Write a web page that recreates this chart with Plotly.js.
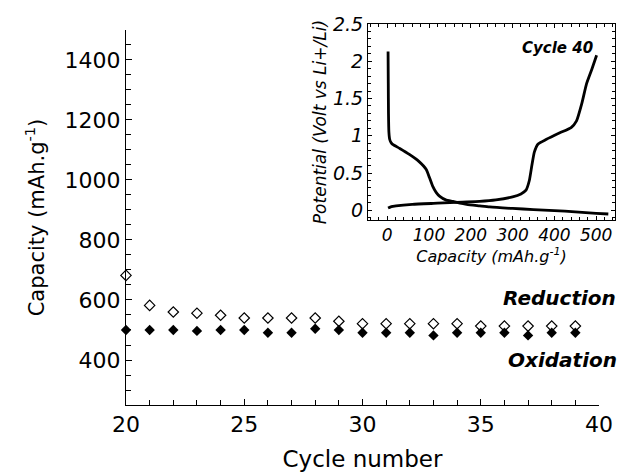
<!DOCTYPE html>
<html>
<head>
<meta charset="utf-8">
<script src="https://cdn.plot.ly/plotly-3.0.1.min.js"></script>
<style>html,body{margin:0;padding:0;background:#fff}#chart{width:623px;height:472px}</style>
</head>
<body>
<div id="chart"></div>
<script>
// Main panel: capacity vs cycle number
const cycles = [20,21,22,23,24,25,26,27,28,29,30,31,32,33,34,35,36,37,38,39];
const reduction = [682,582,560,556,549,540,540,540,540,529,521,521,521,521,521,513,513,513,513,513];
const oxidation = [500,500,500,497,500,500,491,491,504,500,491,491,491,482,491,491,491,482,491,491];

// Inset: potential vs capacity, cycle 40
const dischargeCap = [2,2.5,3,4,6,9,13,30,53,75,93,101,109,117,125,140,157,190,221,245,300,350,400,450,500,529];
const dischargeV = [2.13,1.7,1.3,1.05,0.95,0.91,0.885,0.83,0.75,0.66,0.55,0.44,0.32,0.24,0.19,0.14,0.12,0.08,0.06,0.045,0.025,0.01,-0.005,-0.02,-0.04,-0.05];
const chargeCap = [2,10,21,60,120,180,221,260,300,320,332,340,346,352,361,380,413,440,453,465,477,490,501];
const chargeV = [0.03,0.05,0.06,0.08,0.095,0.11,0.12,0.14,0.18,0.22,0.27,0.4,0.6,0.78,0.89,0.95,1.04,1.11,1.2,1.42,1.7,1.9,2.08];

const FONT = "Comic Sans MS, 'DejaVu Sans', sans-serif";

const traces = [
  {x: cycles, y: reduction, type: 'scatter', mode: 'markers', name: 'Reduction',
   marker: {symbol: 'diamond-open', size: 8, color: '#000', line: {width: 1.2, color: '#000'}},
   cliponaxis: false, xaxis: 'x', yaxis: 'y'},
  {x: cycles, y: oxidation, type: 'scatter', mode: 'markers', name: 'Oxidation',
   marker: {symbol: 'diamond', size: 8, color: '#000'},
   cliponaxis: false, xaxis: 'x', yaxis: 'y'},
  {x: dischargeCap, y: dischargeV, type: 'scatter', mode: 'lines', name: 'Discharge',
   line: {color: '#000', width: 2.8, shape: 'spline', smoothing: 0.5}, xaxis: 'x2', yaxis: 'y2'},
  {x: chargeCap, y: chargeV, type: 'scatter', mode: 'lines', name: 'Charge',
   line: {color: '#000', width: 2.8, shape: 'spline', smoothing: 0.5}, xaxis: 'x2', yaxis: 'y2'}
];

const layout = {
  width: 623, height: 472,
  margin: {l: 126, r: 8, t: 24, b: 67},
  paper_bgcolor: '#fff', plot_bgcolor: 'rgba(0,0,0,0)',
  showlegend: false,
  font: {family: FONT, color: '#000'},
  xaxis: {
    domain: [0, 0.9673], range: [20, 40], dtick: 5, tick0: 0,
    ticks: 'inside', ticklen: 6, tickwidth: 1, tickcolor: '#000',
    minor: {dtick: 1, ticks: 'inside', ticklen: 5, tickcolor: '#000'},
    showline: true, linecolor: '#000', linewidth: 1, mirror: false,
    showgrid: false, zeroline: false,
    tickfont: {size: 22, family: FONT},
    title: {text: 'Cycle number', font: {size: 23, family: FONT}, standoff: 14}
  },
  yaxis: {
    domain: [0, 0.9843], range: [250, 1500], dtick: 200, tick0: 0,
    ticks: 'inside', ticklen: 6, tickwidth: 1, tickcolor: '#000',
    minor: {dtick: 50, ticks: 'inside', ticklen: 5, tickcolor: '#000'},
    showline: true, linecolor: '#000', linewidth: 1, mirror: false,
    showgrid: false, zeroline: false,
    tickfont: {size: 22, family: FONT},
    title: {text: 'Capacity (mAh.g<sup>-1</sup>)', font: {size: 21, family: FONT}, standoff: 14}
  },
  xaxis2: {
    domain: [0.4949, 1], anchor: 'y2', range: [-46, 545], dtick: 100, tick0: 0,
    ticks: 'inside', ticklen: 4, tickwidth: 1, tickcolor: '#000',
    minor: {dtick: 20, ticks: 'inside', ticklen: 3, tickcolor: '#000'},
    showline: true, linecolor: '#000', linewidth: 1, mirror: 'ticks',
    showgrid: false, zeroline: false,
    tickfont: {size: 17, family: FONT, style: 'italic'},
    title: {text: 'Capacity (mAh.g<sup>-1</sup>)', font: {size: 16, family: FONT, style: 'italic'}, standoff: 1}
  },
  yaxis2: {
    domain: [0.4856, 1], anchor: 'x2', range: [-0.13, 2.5], dtick: 0.5, tick0: 0,
    ticks: 'inside', ticklen: 4, tickwidth: 1, tickcolor: '#000',
    minor: {dtick: 0.1, ticks: 'inside', ticklen: 3, tickcolor: '#000'},
    showline: true, linecolor: '#000', linewidth: 1, mirror: 'ticks',
    showgrid: false, zeroline: false,
    tickfont: {size: 19, family: FONT, style: 'italic'},
    title: {text: 'Potential (Volt vs Li+/Li)', font: {size: 17, family: FONT, style: 'italic'}, standoff: 2}
  },
  annotations: [
    {text: 'Reduction', xref: 'paper', yref: 'y', x: 1.006, y: 607, xanchor: 'right', yanchor: 'middle',
     showarrow: false, font: {size: 20, family: FONT, style: 'italic', weight: 'bold'}},
    {text: 'Oxidation', xref: 'paper', yref: 'y', x: 1.008, y: 400, xanchor: 'right', yanchor: 'middle',
     showarrow: false, font: {size: 20, family: FONT, style: 'italic', weight: 'bold'}},
    {text: 'Cycle 40', xref: 'x2', yref: 'y2', x: 408, y: 2.18, xanchor: 'center', yanchor: 'middle',
     showarrow: false, font: {size: 15, family: FONT, style: 'italic', weight: 'bold'}}
  ]
};

Plotly.newPlot('chart', traces, layout, {displayModeBar: false, staticPlot: true});
</script>
</body>
</html>
